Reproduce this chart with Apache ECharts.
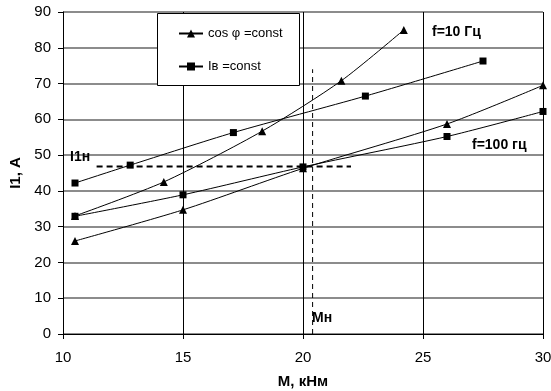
<!DOCTYPE html>
<html><head><meta charset="utf-8">
<script src="https://cdn.jsdelivr.net/npm/echarts@6/dist/echarts.min.js"></script>
<style>html,body{margin:0;padding:0;background:#fff}#c{width:551px;height:391px}</style>
</head><body><div id="c"></div>
<script>
// f = 10 Hz
const cos10 = [[10.5,33],[14.2,42.5],[18.3,56.7],[21.6,70.8],[24.2,85]];
const iv10  = [[10.5,42.2],[12.8,47.2],[17.1,56.3],[22.6,66.5],[27.5,76.3]];
// f = 100 Hz
const cos100 = [[10.5,26],[15,34.7],[20,46.3],[26,58.7],[30,69.5]];
const iv100  = [[10.5,32.9],[15,38.9],[20,46.7],[26,55.2],[30,62.2]];
// rated point guides
const ratedI = [[11.4,46.8],[22,46.8]];
const ratedM = [[20.4,0],[20.4,74]];
const xTicks = [10,15,20,25,30];
const yTicks = [0,10,20,30,40,50,60,70,80,90];

const FONT = 'Liberation Sans, Arial, sans-serif';
const chart = echarts.init(document.getElementById('c'), null, {renderer:'canvas'});
const lineSeries = (name, data, symbol, size) => ({
  name, type:'line', data, symbol, symbolSize:size, showSymbol:true, smooth:0.25,
  lineStyle:{color:'#000', width:1}, itemStyle:{color:'#000'},
  z:3, animation:false
});
chart.setOption({
  animation:false,
  grid:{left:63, right:8, top:12, bottom:57, containLabel:false, outerBoundsMode:'none'},
  xAxis:{type:'value', min:xTicks[0], max:xTicks[xTicks.length-1], interval:5,
    name:'M, кНм', nameLocation:'middle', nameGap:40,
    nameTextStyle:{fontFamily:FONT, fontSize:15, fontWeight:'bold', color:'#000'},
    axisLine:{lineStyle:{color:'#000', width:1}},
    axisTick:{show:true, length:5, inside:false, lineStyle:{color:'#000'}},
    axisLabel:{fontFamily:FONT, fontSize:15, color:'#000', margin:16},
    splitLine:{show:true, lineStyle:{color:'#000', width:1}}},
  yAxis:{type:'value', min:yTicks[0], max:yTicks[yTicks.length-1], interval:10,
    name:'I1, A', nameLocation:'middle', nameGap:39,
    nameTextStyle:{fontFamily:FONT, fontSize:15, fontWeight:'bold', color:'#000'},
    axisLine:{show:true, lineStyle:{color:'#000', width:1}},
    axisTick:{show:true, length:5, lineStyle:{color:'#000'}},
    axisLabel:{fontFamily:FONT, fontSize:15, color:'#000', margin:12},
    splitLine:{show:true, lineStyle:{color:'#666', width:1.5}}},
  legend:{show:true, orient:'vertical', left:173, top:22, itemGap:20,
    itemWidth:24, itemHeight:10,
    data:['cos φ =const','Iв =const'],
    textStyle:{fontFamily:FONT, fontSize:13, color:'#000'}, z:10},
  graphic:[
    {type:'rect', shape:{x:157.5, y:13.5, width:142, height:72}, style:{fill:'#fff', stroke:'#000', lineWidth:1}, z:5},
    {type:'text', left:70, top:150, style:{text:'I1н', font:'bold 14px '+FONT, fill:'#000'}, z:6},
    {type:'text', left:432, top:25, style:{text:'f=10 Гц', font:'bold 14px '+FONT, fill:'#000'}, z:6},
    {type:'text', left:472, top:138, style:{text:'f=100 гц', font:'bold 14px '+FONT, fill:'#000'}, z:6},
    {type:'text', left:312, top:311, style:{text:'Мн', font:'bold 14px '+FONT, fill:'#000'}, z:6}
  ],
  series:[
    lineSeries('cos φ =const', cos10, 'triangle', 8),
    lineSeries('Iв =const', iv10, 'rect', 7),
    lineSeries('cos φ =const', cos100, 'triangle', 8),
    lineSeries('Iв =const', iv100, 'rect', 7),
    {type:'line', data:ratedI, symbol:'none', lineStyle:{color:'#000', width:2, type:[6,4]}, z:2, silent:true},
    {type:'line', data:ratedM, symbol:'none', lineStyle:{color:'#000', width:1, type:[5,4]}, z:2, silent:true}
  ]
});
</script></body></html>
